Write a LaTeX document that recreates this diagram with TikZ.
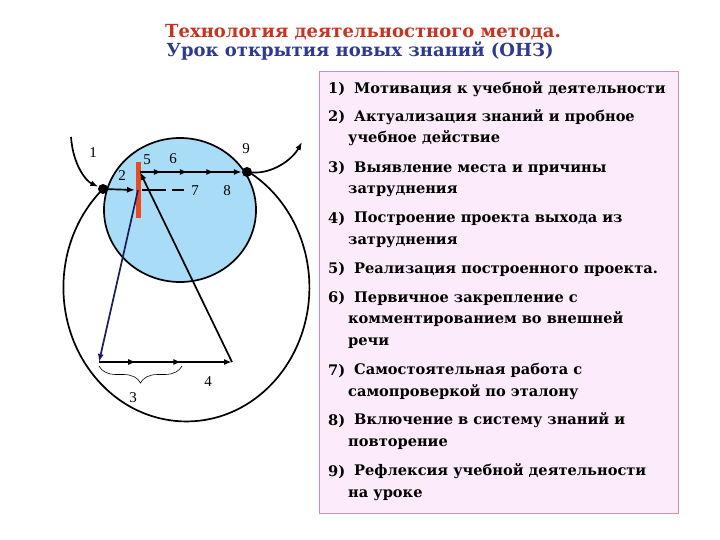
\documentclass[tikz,border=0pt]{standalone}
\usepackage{fontspec}
\setmainfont{Liberation Serif}
\newfontfamily\listfont{DejaVu Serif}
\usetikzlibrary{arrows.meta,decorations.markings,decorations.pathreplacing}
\definecolor{bluefill}{HTML}{A9DCF7}
\definecolor{boxfill}{HTML}{FCEBFA}
\definecolor{boxline}{HTML}{C890C0}
\definecolor{titlered}{HTML}{C8321E}
\definecolor{titleblue}{HTML}{2E3A8E}
\definecolor{barred}{HTML}{EA4A1E}
\definecolor{navyline}{HTML}{1C1C5C}
\begin{document}
\begin{tikzpicture}[x=1pt,y=-1pt,
  line/.style={line width=1.7pt, black},
  tip/.style={-{Latex[length=8pt,width=6pt]}},
  dot/.style={circle, fill=black, inner sep=0pt, minimum size=10pt},
  lbl/.style={font=\fontsize{15}{15}\selectfont, inner sep=0pt, anchor=base},
  num/.style={anchor=base west, inner sep=0pt, font=\listfont\bfseries\fontsize{14.6}{21.5}\selectfont},
  itm/.style={anchor=base west, inner sep=0pt, align=left, font=\listfont\bfseries\fontsize{14.6}{21.5}\selectfont},
  ttl/.style={anchor=base, inner sep=0pt, font=\listfont\bfseries\fontsize{18}{18}\selectfont},
  topmarks/.style={postaction={decorate}, decoration={markings,
     mark=at position 0.215 with {\arrow{Latex[length=8pt,width=6pt]}},
     mark=at position 0.47 with {\arrow{Latex[length=8pt,width=6pt]}},
     mark=at position 0.73 with {\arrow{Latex[length=8pt,width=6pt]}}}},
  botmarks/.style={postaction={decorate}, decoration={markings,
     mark=at position 0.28 with {\arrow{Latex[length=8pt,width=6pt]}},
     mark=at position 0.62 with {\arrow{Latex[length=8pt,width=6pt]}}}}
]
\useasboundingbox (0,0) rectangle (720,540);
\fill[white] (0,0) rectangle (720,540);

% titles
\node[ttl, text=titlered] (title1) at (363,38) {Технология деятельностного метода.};
\node[ttl, text=titleblue] (title2) at (360,57) {Урок открытия новых знаний (ОНЗ)};

% list box
\draw[fill=boxfill, draw=boxline, line width=0.8pt] (319,71) rectangle (678,513);

% (multi-line items are anchored at the baseline of their last line)
\node[num] (n1) at (328,94) {1)};
\node[itm] (t1) at (348,94) {\hspace*{6pt}Мотивация к учебной деятельности};
\node[num] (n2) at (328,122) {2)};
\node[itm] (t2) at (348,143) {\hspace*{6pt}Актуализация знаний и пробное\\учебное действие};
\node[num] (n3) at (328,173) {3)};
\node[itm] (t3) at (348,194) {\hspace*{6pt}Выявление места и причины\\затруднения};
\node[num] (n4) at (328,223) {4)};
\node[itm] (t4) at (348,244) {\hspace*{6pt}Построение проекта выхода из\\затруднения};
\node[num] (n5) at (328,273) {5)};
\node[itm] (t5) at (348,273) {\hspace*{6pt}Реализация построенного проекта.};
\node[num] (n6) at (328,302) {6)};
\node[itm] (t6) at (348,345) {\hspace*{6pt}Первичное закрепление с\\комментированием во внешней\\речи};
\node[num] (n7) at (328,375) {7)};
\node[itm] (t7) at (348,396) {\hspace*{6pt}Самостоятельная работа с\\самопроверкой по эталону};
\node[num] (n8) at (328,425) {8)};
\node[itm] (t8) at (348,446) {\hspace*{6pt}Включение в систему знаний и\\повторение};
\node[num] (n9) at (328,476) {9)};
\node[itm] (t9) at (348,497) {\hspace*{6pt}Рефлексия учебной деятельности\\на уроке};

% diagram
\draw[line, fill=bluefill] (180,210) ellipse [x radius=76, y radius=72];
\draw[line] (103,189) arc[start angle=227.3, end angle=-60.3, x radius=123, y radius=134];

\coordinate (s1) at (71,137);
\coordinate (e9) at (302,142);
\coordinate (p5) at (140,172);
\coordinate (pa) at (135,190);
\coordinate (pb) at (138,190);
\coordinate (pc) at (142,190);
\coordinate (d7) at (184,190);
\coordinate (q3) at (99,362);
\coordinate (q4) at (232,362);
\node[dot] (d2) at (103,189) {};
\node[dot] (d9) at (247,172) {};

\draw[line, tip] (s1) .. controls (73,165) and (86,181) .. (d2);
\draw[line, tip] (d9) .. controls (272,174) and (292,160) .. (e9);
\draw[line, tip] (d2) -- (pa);
\draw[line, dash pattern=on 24pt off 6pt] (pc) -- (d7);
\draw[barred, line width=5pt] (138,162) -- (138,218);
\draw[line, navyline, tip] (pb) -- (q3);
\draw[line, topmarks, tip] (p5) -- (d9);
\draw[line, botmarks, tip] (q3) -- (q4);
\draw[line, tip] (q4) -- (p5);
\draw[decorate, decoration={brace, amplitude=17pt, mirror}, line width=0.6pt] (99,366) -- (182,366);

% labels
\node[lbl] (l1) at (93,158) {1};
\node[lbl] (l2) at (122,181) {2};
\node[lbl] (l3) at (133,402) {3};
\node[lbl] (l4) at (208,386) {4};
\node[lbl] (l5) at (147,165) {5};
\node[lbl] (l6) at (173,164) {6};
\node[lbl] (l7) at (195,196) {7};
\node[lbl] (l8) at (227,196) {8};
\node[lbl] (l9) at (246,154) {9};
\end{tikzpicture}
\end{document}
